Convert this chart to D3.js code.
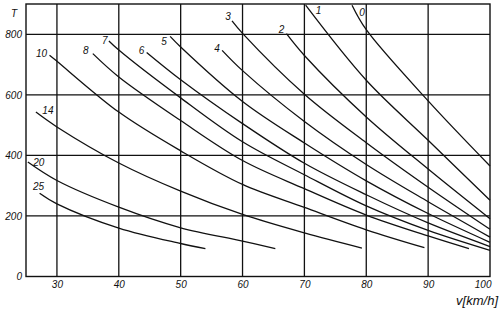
<!DOCTYPE html>
<html>
<head>
<meta charset="utf-8">
<script src="https://cdn.jsdelivr.net/npm/d3@7"></script>
<style>
  body { margin: 0; background: #fff; }
  text { font-family: "Liberation Sans", Arial, sans-serif; font-style: italic; fill: #111; }
</style>
</head>
<body>
<div id="chart"></div>
<script>
// curve names = gradient (per mille), each curve is [v km/h, T]
var curveNames = ["0", "1", "2", "3", "4", "5", "6", "7", "8", "10", "14", "20", "25"];

var curve0  = [[77.7, 896], [80, 815], [90, 580], [100, 365]];
var curve1  = [[70.2, 896], [80, 648], [90, 450], [100, 252]];
var curve2  = [[67.1, 802], [70, 730], [80, 527], [90, 355], [100, 191]];
var curve3  = [[58.3, 844], [60, 803], [70, 602], [80, 442], [90, 295], [100, 156]];
var curve4  = [[56.7, 747], [60, 680], [70, 512], [80, 370], [90, 247], [100, 130]];
var curve5  = [[48.3, 793], [50, 758], [60, 578], [70, 441], [80, 316], [90, 208], [100, 113]];
var curve6  = [[44.5, 740], [50, 650], [60, 505], [70, 374], [80, 270], [90, 177], [100, 99]];
var curve7  = [[38.4, 778], [40, 748], [50, 590], [60, 445], [70, 336], [80, 233], [90, 152], [100, 86]];
var curve8  = [[35.8, 736], [40, 659], [50, 515], [60, 383], [70, 290], [80, 203], [90, 134], [96.6, 92]];
var curve10 = [[28.8, 731], [30, 711], [40, 543], [50, 415], [60, 304], [70, 228], [80, 154], [89.4, 95]];
var curve14 = [[26.6, 543], [30, 494], [40, 375], [50, 282], [60, 205], [70, 144], [79.3, 94]];
var curve20 = [[25.3, 378], [30, 317], [40, 229], [50, 161], [60, 117], [65.3, 92]];
var curve25 = [[27.2, 275], [30, 240], [40, 160], [50, 109], [54, 92]];

var curves = [curve0, curve1, curve2, curve3, curve4, curve5, curve6, curve7, curve8, curve10, curve14, curve20, curve25];

var xTicks = [30, 40, 50, 60, 70, 80, 90, 100];
var yTicks = [0, 200, 400, 600, 800];

// where each curve's number sits, relative to the start of the curve (px)
var labelOffsets = [[10, 7], [13, 5], [-5, -4], [-4, -4], [-5, -2], [-6, 5], [-5, -2], [-4, 0], [-7, -3], [-8, -2], [12, -2], [11, 0], [-1, -7]];

var w = 500;
var h = 312;

var x = d3.scaleLinear().domain([25, 100]).range([26, 490]);
var y = d3.scaleLinear().domain([0, 900]).range([276.5, 4]);

var svg = d3.select("#chart")
  .append("svg")
  .attr("width", w)
  .attr("height", h);

// grid
svg.selectAll("line.vgrid")
  .data(xTicks.slice(0, -1))
  .enter()
  .append("line")
  .attr("x1", function(d) { return x(d); })
  .attr("x2", function(d) { return x(d); })
  .attr("y1", y(900))
  .attr("y2", y(0))
  .attr("stroke", "#111")
  .attr("stroke-width", 1.3);

svg.selectAll("line.hgrid")
  .data(yTicks.slice(1))
  .enter()
  .append("line")
  .attr("x1", x(25))
  .attr("x2", x(100))
  .attr("y1", function(d) { return y(d); })
  .attr("y2", function(d) { return y(d); })
  .attr("stroke", "#111")
  .attr("stroke-width", 1.3);

// frame
svg.append("rect")
  .attr("x", x(25))
  .attr("y", y(900))
  .attr("width", x(100) - x(25))
  .attr("height", y(0) - y(900))
  .attr("fill", "none")
  .attr("stroke", "#111")
  .attr("stroke-width", 1.4);

// axes (labels only)
var yAxis = svg.append("g")
  .attr("transform", "translate(" + x(25) + ",0)")
  .call(d3.axisLeft(y).tickValues(yTicks).tickSize(0).tickPadding(4));
yAxis.select(".domain").remove();
yAxis.selectAll("text").style("font-size", "10px").style("font-family", null);

var xAxis = svg.append("g")
  .attr("transform", "translate(0," + y(0) + ")")
  .call(d3.axisBottom(x).tickValues(xTicks).tickSize(0).tickPadding(4));
xAxis.select(".domain").remove();
xAxis.selectAll("text").style("font-size", "10px").style("font-family", null);
xAxis.selectAll("text").filter(function(d) { return d == 100; })
  .attr("text-anchor", "end")
  .attr("dx", "0.1em");

svg.append("text")
  .attr("x", 14)
  .attr("y", 17)
  .attr("text-anchor", "middle")
  .style("font-size", "10px")
  .text("T");

svg.append("text")
  .attr("x", 498)
  .attr("y", 305)
  .attr("text-anchor", "end")
  .style("font-size", "13px")
  .text("v[km/h]");

// curves
var line = d3.line()
  .x(function(d) { return x(d[0]); })
  .y(function(d) { return y(d[1]); })
  .curve(d3.curveCatmullRom.alpha(0.5));

svg.selectAll("path.curve")
  .data(curves)
  .enter()
  .append("path")
  .attr("class", "curve")
  .attr("d", line)
  .attr("fill", "none")
  .attr("stroke", "#111")
  .attr("stroke-width", 1.3);

svg.selectAll("text.lbl")
  .data(curves)
  .enter()
  .append("text")
  .attr("class", "lbl")
  .attr("x", function(d, i) { return x(d[0][0]) + labelOffsets[i][0]; })
  .attr("y", function(d, i) { return y(d[0][1]) + labelOffsets[i][1]; })
  .attr("text-anchor", "middle")
  .attr("dy", "0.35em")
  .style("font-size", "10px")
  .text(function(d, i) { return curveNames[i]; });
</script>
</body>
</html>
